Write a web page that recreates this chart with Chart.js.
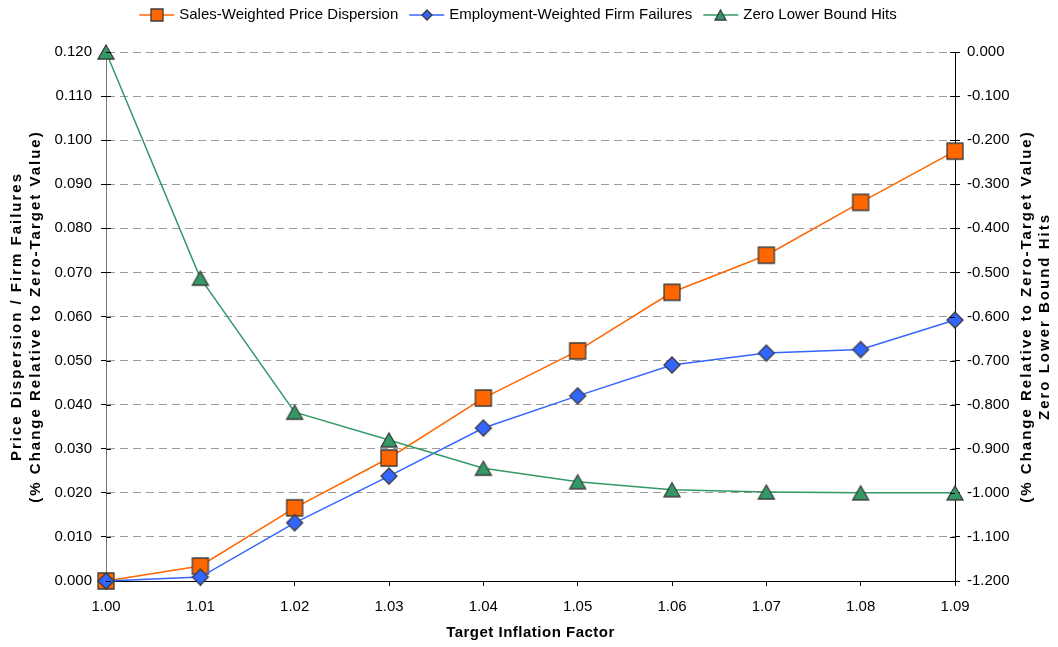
<!DOCTYPE html>
<html>
<head>
<meta charset="utf-8">
<script src="https://cdn.jsdelivr.net/npm/chart.js@4"></script>
<style>
  html, body { margin: 0; padding: 0; background: #fff; }
  canvas { display: block; }
</style>
</head>
<body>
<canvas id="inflation-chart" width="1058" height="647"></canvas>
<script>
// Target inflation factors along the x axis
const inflationFactors = ['1.00', '1.01', '1.02', '1.03', '1.04', '1.05', '1.06', '1.07', '1.08', '1.09'];

// Left axis series (% change relative to zero-target value)
const priceDispersion = [0.000, 0.0034, 0.0166, 0.0279, 0.0415, 0.0522, 0.0655, 0.0739, 0.0859, 0.0975];
const firmFailures = [0.000, 0.0009, 0.0132, 0.0238, 0.0347, 0.0420, 0.0490, 0.0517, 0.0525, 0.0592];

// Right axis series
const zlbHits = [0.000, -0.513, -0.817, -0.880, -0.944, -0.975, -0.993, -0.998, -1.000, -1.000];

// Axis ranges
const leftMin = 0, leftMax = 0.12, leftStep = 0.01;
const rightMin = -1.2, rightMax = 0, rightStep = 0.1;

const FONT = '"Liberation Sans", Arial, sans-serif';
const ORANGE = '#FF6600';
const BLUE = '#3366FF';
const GREEN = '#339966';

// Excel-style markers drawn onto small canvases so they sit centred on the point
function makeMarker(shape, size, fill) {
    const pad = 2;
    const h = shape === 'triangle' ? Math.round(size * 0.88) : size;
    const c = document.createElement('canvas');
    c.width = size + pad * 2;
    c.height = h + pad * 2;
    const g = c.getContext('2d');
    g.beginPath();
    if (shape === 'square') {
        g.rect(pad, pad, size, size);
    } else if (shape === 'diamond') {
        const m = pad + size / 2;
        g.moveTo(m, pad);
        g.lineTo(pad + size, m);
        g.lineTo(m, pad + size);
        g.lineTo(pad, m);
        g.closePath();
    } else {
        g.moveTo(pad + size / 2, pad);
        g.lineTo(pad + size, pad + h);
        g.lineTo(pad, pad + h);
        g.closePath();
    }
    g.fillStyle = fill;
    g.fill();
    g.lineWidth = 1.3;
    g.strokeStyle = '#3c3c3c';
    g.stroke();
    return c;
}

const legendItems = [
    { text: 'Sales-Weighted Price Dispersion', color: ORANGE, marker: makeMarker('square', 12, ORANGE) },
    { text: 'Employment-Weighted Firm Failures', color: BLUE, marker: makeMarker('diamond', 10, BLUE) },
    { text: 'Zero Lower Bound Hits', color: GREEN, marker: makeMarker('triangle', 11, GREEN) }
];

// Legend, axis titles and the inner halves of the y-axis tick marks
const decorations = {
    id: 'decorations',
    afterDraw(chart) {
        const ctx = chart.ctx;
        const area = chart.chartArea;
        const yLeft = chart.scales.y;
        const yRight = chart.scales.y1;

        ctx.save();
        ctx.strokeStyle = '#000';
        ctx.lineWidth = 1;
        yLeft.ticks.forEach((t, i) => {
            const py = Math.round(yLeft.getPixelForTick(i)) + 0.5;
            ctx.beginPath();
            ctx.moveTo(area.left, py);
            ctx.lineTo(area.left + 5, py);
            ctx.stroke();
        });
        yRight.ticks.forEach((t, i) => {
            const py = Math.round(yRight.getPixelForTick(i)) + 0.5;
            ctx.beginPath();
            ctx.moveTo(area.right - 5, py);
            ctx.lineTo(area.right, py);
            ctx.stroke();
        });
        ctx.restore();

        // legend
        ctx.save();
        ctx.font = '15px ' + FONT;
        ctx.textBaseline = 'middle';
        ctx.fillStyle = '#000';
        const lineLen = 35, gap = 5, spacing = 11;
        const widths = legendItems.map(it => ctx.measureText(it.text).width);
        const total = widths.reduce((a, b) => a + b, 0) + legendItems.length * (lineLen + gap) + spacing * (legendItems.length - 1);
        let x = 518 - total / 2;
        const ly = 15;
        legendItems.forEach((it, i) => {
            ctx.strokeStyle = it.color;
            ctx.lineWidth = 1.5;
            ctx.beginPath();
            ctx.moveTo(x, ly);
            ctx.lineTo(x + lineLen, ly);
            ctx.stroke();
            const m = it.marker;
            ctx.drawImage(m, Math.round(x + lineLen / 2 - m.width / 2), Math.round(ly - m.height / 2));
            x += lineLen + gap;
            ctx.fillText(it.text, x, ly);
            x += widths[i] + spacing;
        });
        ctx.restore();

        // axis titles
        ctx.save();
        ctx.font = 'bold 15px ' + FONT;
        ctx.fillStyle = '#000';
        ctx.textAlign = 'center';
        ctx.textBaseline = 'middle';
        ctx.letterSpacing = '0.5px';
        ctx.fillText('Target Inflation Factor', (area.left + area.right) / 2, 633);

        const midY = (area.top + area.bottom) / 2;
        ctx.letterSpacing = '2px';
        const vertical = (text, cx) => {
            ctx.save();
            ctx.translate(cx, midY);
            ctx.rotate(-Math.PI / 2);
            ctx.fillText(text, 0, 0);
            ctx.restore();
        };
        vertical('Price Dispersion / Firm Failures', 17);
        vertical('(% Change Relative to Zero-Target Value)', 36);
        vertical('(% Change Relative to Zero-Target Value)', 1027);
        vertical('Zero Lower Bound Hits', 1045);
        ctx.restore();
    }
};

const ctx = document.getElementById('inflation-chart').getContext('2d');

const inflationChart = new Chart(ctx, {
    type: 'line',
    data: {
        labels: inflationFactors,
        datasets: [
            {
                label: 'Sales-Weighted Price Dispersion',
                data: priceDispersion,
                yAxisID: 'y',
                borderColor: ORANGE,
                borderWidth: 1.5,
                pointStyle: makeMarker('square', 16, ORANGE),
                order: 3,
                clip: false
            },
            {
                label: 'Employment-Weighted Firm Failures',
                data: firmFailures,
                yAxisID: 'y',
                borderColor: BLUE,
                borderWidth: 1.5,
                pointStyle: makeMarker('diamond', 16, BLUE),
                order: 2,
                clip: false
            },
            {
                label: 'Zero Lower Bound Hits',
                data: zlbHits,
                yAxisID: 'y1',
                borderColor: GREEN,
                borderWidth: 1.5,
                pointStyle: makeMarker('triangle', 16, GREEN),
                order: 1,
                clip: false
            }
        ]
    },
    options: {
        responsive: false,
        animation: false,
        events: [],
        layout: {
            padding: { top: 52, left: 0, right: 0, bottom: 0 }
        },
        plugins: {
            legend: { display: false },
            tooltip: { enabled: false }
        },
        scales: {
            x: {
                type: 'category',
                offset: false,
                grid: {
                    drawOnChartArea: false,
                    drawTicks: true,
                    tickLength: 5,
                    tickColor: '#000'
                },
                border: { color: '#000', width: 1 },
                ticks: {
                    color: '#000',
                    font: { family: FONT, size: 15 },
                    padding: 12,
                    maxRotation: 0,
                    autoSkip: false
                },
                afterFit(scale) { scale.height = 66; }
            },
            y: {
                position: 'left',
                min: leftMin,
                max: leftMax,
                grid: {
                    color: '#9a9a9a',
                    lineWidth: 1,
                    tickLength: 5,
                    tickColor: '#000'
                },
                border: { color: '#777', width: 1, dash: [8, 5] },
                ticks: {
                    stepSize: leftStep,
                    autoSkip: false,
                    color: '#000',
                    font: { family: FONT, size: 15 },
                    padding: 9,
                    callback: v => v.toFixed(3)
                },
                afterFit(scale) { scale.width = 106; }
            },
            y1: {
                position: 'right',
                min: rightMin,
                max: rightMax,
                grid: {
                    drawOnChartArea: false,
                    tickLength: 5,
                    tickColor: '#000'
                },
                border: { color: '#000', width: 1 },
                ticks: {
                    stepSize: rightStep,
                    autoSkip: false,
                    color: '#000',
                    font: { family: FONT, size: 15 },
                    padding: 7,
                    callback: v => v.toFixed(3)
                },
                afterFit(scale) { scale.width = 103; }
            }
        }
    },
    plugins: [decorations]
});
</script>
</body>
</html>
